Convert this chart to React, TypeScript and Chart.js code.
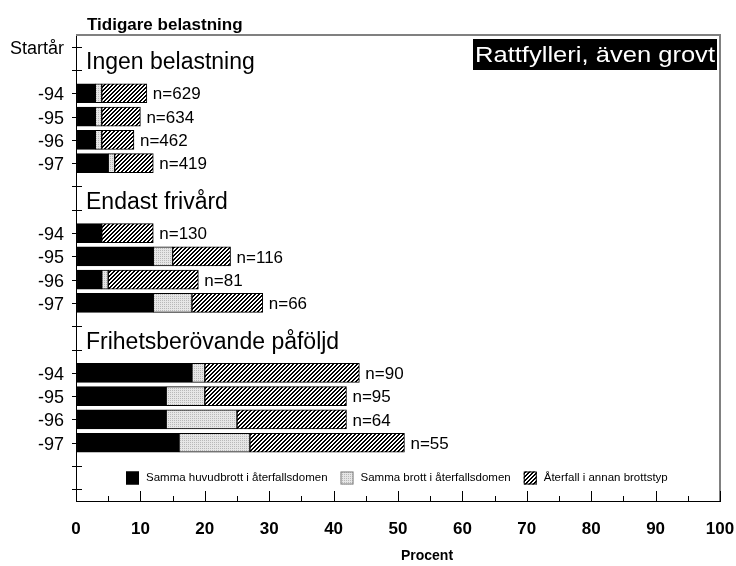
import React, { useEffect, useRef } from "react";
import { Chart, registerables } from "chart.js";

Chart.register(...registerables);

const FONT = "'Liberation Sans', Arial, Helvetica, sans-serif";

// Category rows (top to bottom); blank rows hold group headings / spacing
const ROW_LABELS = ["Startår", "", "-94", "-95", "-96", "-97", "", "", "-94", "-95", "-96", "-97", "", "", "-94", "-95", "-96", "-97", "", ""];
const GROUP_TITLES = ["Ingen belastning", "Endast frivård", "Frihetsberövande påföljd"];
const GROUP_ROWS = [1, 7, 13];

const SERIES_NAMES = ["Samma huvudbrott i återfallsdomen", "Samma brott i återfallsdomen", "Återfall i annan brottstyp"];
const SAMMA_HUVUDBROTT = [null, null, 3, 3, 3, 5, null, null, 4, 12, 4, 12, null, null, 18, 14, 14, 16, null, null];
const SAMMA_BROTT = [null, null, 1, 1, 1, 1, null, null, null, 3, 1, 6, null, null, 2, 6, 11, 11, null, null];
const ANNAN_BROTTSTYP = [null, null, 7, 6, 5, 6, null, null, 8, 9, 14, 11, null, null, 24, 22, 17, 24, null, null];
const N_LABELS = ["", "", "n=629", "n=634", "n=462", "n=419", "", "", "n=130", "n=116", "n=81", "n=66", "", "", "n=90", "n=95", "n=64", "n=55", "", ""];

const TOP_TITLE = "Tidigare belastning";
const BOX_TITLE = "Rattfylleri, även grovt";
const X_TITLE = "Procent";
const X_MIN = 0;
const X_MAX = 100;
const X_STEP = 10;

function makeHatch(): CanvasPattern | string {
  const c = document.createElement("canvas");
  c.width = 4;
  c.height = 4;
  const g = c.getContext("2d");
  if (!g) return "#000";
  g.fillStyle = "#fff";
  g.fillRect(0, 0, 4, 4);
  g.fillStyle = "#000";
  for (let x = 0; x < 4; x++) {
    for (let y = 0; y < 4; y++) {
      const m = (x + y) % 4;
      if (m === 0 || m === 1) g.fillRect(x, y, 1, 1);
    }
  }
  return g.createPattern(c, "repeat") as CanvasPattern;
}

function makeStipple(): CanvasPattern | string {
  const c = document.createElement("canvas");
  c.width = 2;
  c.height = 2;
  const g = c.getContext("2d");
  if (!g) return "#ddd";
  g.fillStyle = "#e6e6e6";
  g.fillRect(0, 0, 2, 2);
  g.fillStyle = "#b8b8b8";
  g.fillRect(0, 0, 1, 1);
  return g.createPattern(c, "repeat") as CanvasPattern;
}

const decorPlugin = {
  id: "decor",
  afterDraw(chart: any) {
    const ctx: CanvasRenderingContext2D = chart.ctx;
    const { left, right, top, bottom } = chart.chartArea;
    const xs = chart.scales.x;
    const ys = chart.scales.y;
    ctx.save();

    // top & right frame (grey)
    ctx.strokeStyle = "#808080";
    ctx.lineWidth = 2;
    ctx.beginPath();
    ctx.moveTo(left, top);
    ctx.lineTo(right, top);
    ctx.lineTo(right, bottom);
    ctx.stroke();

    // y ticks crossing the axis
    ctx.strokeStyle = "#000";
    ctx.lineWidth = 1;
    for (let i = 0; i < ROW_LABELS.length; i++) {
      const py = Math.round(ys.getPixelForValue(i)) + 0.5;
      ctx.beginPath();
      ctx.moveTo(left - 4, py);
      ctx.lineTo(left + 6, py);
      ctx.stroke();
    }
    // x ticks pointing inward (major + minor)
    for (let v = X_MIN + X_STEP / 2; v <= X_MAX; v += X_STEP / 2) {
      const px = Math.round(xs.getPixelForValue(v)) + 0.5;
      const len = Math.abs(v % X_STEP) < 1e-9 ? 10 : 5;
      ctx.beginPath();
      ctx.moveTo(px, bottom);
      ctx.lineTo(px, bottom - len);
      ctx.stroke();
    }
    // redraw bottom axis line on top
    ctx.beginPath();
    ctx.moveTo(left, Math.round(bottom) + 0.5);
    ctx.lineTo(right, Math.round(bottom) + 0.5);
    ctx.stroke();

    // group headings
    ctx.fillStyle = "#000";
    ctx.font = `23px ${FONT}`;
    ctx.textAlign = "left";
    ctx.textBaseline = "alphabetic";
    GROUP_TITLES.forEach((t, k) => {
      const py = ys.getPixelForValue(GROUP_ROWS[k]);
      ctx.fillText(t, left + 10, py - 0.5);
    });

    // n labels
    ctx.font = `17px ${FONT}`;
    ctx.textBaseline = "middle";
    for (let i = 0; i < ROW_LABELS.length; i++) {
      if (!N_LABELS[i]) continue;
      const total = (SAMMA_HUVUDBROTT[i] || 0) + (SAMMA_BROTT[i] || 0) + (ANNAN_BROTTSTYP[i] || 0);
      const px = xs.getPixelForValue(total) + 6;
      const py = ys.getPixelForValue(i) + 1.5;
      ctx.fillText(N_LABELS[i], px, py);
    }

    // top-left title
    ctx.font = `bold 17px ${FONT}`;
    ctx.textBaseline = "alphabetic";
    ctx.fillText(TOP_TITLE, 87, 30);

    // boxed title (top right)
    const bx = 473, by = 39, bw = 244, bh = 31;
    ctx.fillStyle = "#000";
    ctx.fillRect(bx, by, bw, bh);
    ctx.font = `22px ${FONT}`;
    const tw = ctx.measureText(BOX_TITLE).width;
    const sx = (bw - 4) / tw;
    ctx.save();
    ctx.translate(bx + bw / 2, by + bh / 2 + 1);
    ctx.scale(sx, 1);
    ctx.fillStyle = "#fff";
    ctx.textAlign = "center";
    ctx.textBaseline = "middle";
    ctx.fillText(BOX_TITLE, 0, 0);
    ctx.restore();

    // x axis title
    ctx.fillStyle = "#000";
    ctx.font = `bold 14px ${FONT}`;
    ctx.textAlign = "center";
    ctx.textBaseline = "middle";
    ctx.fillText(X_TITLE, 427, 556);

    // legend inside plot
    ctx.font = `11.5px ${FONT}`;
    ctx.textAlign = "left";
    ctx.textBaseline = "middle";
    let lx = 126;
    const ly = 478;
    chart.data.datasets.forEach((ds: any) => {
      ctx.fillStyle = ds.backgroundColor;
      ctx.fillRect(lx, ly - 6.5, 13, 13);
      ctx.strokeStyle = ds.legendBorder;
      ctx.lineWidth = 1;
      ctx.strokeRect(lx + 0.5, ly - 6, 12, 12);
      ctx.fillStyle = "#000";
      ctx.fillText(ds.label, lx + 20, ly);
      lx += 20 + ctx.measureText(ds.label).width + 13;
    });

    ctx.restore();
  },
};

export default function App() {
  const ref = useRef<HTMLCanvasElement | null>(null);

  useEffect(() => {
    const canvas = ref.current;
    if (!canvas) return;
    const hatch = makeHatch();
    const stipple = makeStipple();
    const chart = new Chart(canvas, {
      type: "bar",
      data: {
        labels: ROW_LABELS,
        datasets: [
          {
            label: SERIES_NAMES[0],
            data: SAMMA_HUVUDBROTT as any,
            backgroundColor: "#000",
            borderColor: "#000",
            borderWidth: 1,
            borderSkipped: false,
            barThickness: 19,
            legendBorder: "#000",
          } as any,
          {
            label: SERIES_NAMES[1],
            data: SAMMA_BROTT as any,
            backgroundColor: stipple,
            borderColor: "#000",
            borderWidth: 1,
            borderSkipped: false,
            barThickness: 19,
            legendBorder: "#808080",
          } as any,
          {
            label: SERIES_NAMES[2],
            data: ANNAN_BROTTSTYP as any,
            backgroundColor: hatch,
            borderColor: "#000",
            borderWidth: 1,
            borderSkipped: false,
            barThickness: 19,
            legendBorder: "#000",
          } as any,
        ],
      },
      options: {
        indexAxis: "y",
        responsive: false,
        animation: false,
        layout: { padding: { top: 35, right: 0, left: 0, bottom: 0 } },
        plugins: {
          legend: { display: false },
          tooltip: { enabled: false },
          title: { display: false },
        },
        scales: {
          x: {
            type: "linear",
            min: X_MIN,
            max: X_MAX,
            stacked: true,
            position: "bottom",
            ticks: {
              stepSize: X_STEP,
              color: "#000",
              font: { family: FONT, size: 17, weight: "bold" },
              padding: 18,
            },
            grid: { display: true, drawOnChartArea: false, drawTicks: false },
            border: { display: true, color: "#000", width: 1 },
            afterFit: (s: any) => {
              s.height = 65;
              s.paddingRight = 16;
              s.paddingLeft = 0;
            },
          },
          y: {
            type: "category",
            stacked: true,
            offset: true,
            ticks: {
              color: "#000",
              font: { family: FONT, size: 18 },
              padding: 12,
              autoSkip: false,
              labelOffset: 2,
            },
            grid: { display: true, drawOnChartArea: false, drawTicks: false },
            border: { display: true, color: "#000", width: 1 },
            afterFit: (s: any) => {
              s.width = 76;
            },
          },
        },
      } as any,
      plugins: [decorPlugin],
    });
    return () => chart.destroy();
  }, []);

  return (
    <div style={{ position: "absolute", left: 0, top: 0, width: 736, height: 566, background: "#fff" }}>
      <canvas ref={ref} width={736} height={566} style={{ display: "block", width: 736, height: 566 }} />
    </div>
  );
}
